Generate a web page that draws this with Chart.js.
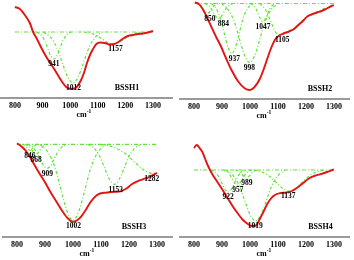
<!DOCTYPE html>
<html>
<head>
<meta charset="utf-8">
<script src="https://cdn.jsdelivr.net/npm/chart.js@4.4.0/dist/chart.umd.min.js"></script>
<style>
  html, body { margin: 0; padding: 0; background: #fff; }
  #wrap { position: relative; width: 354px; height: 260px; overflow: hidden; }
  #wrap canvas { position: absolute; }
</style>
</head>
<body>
<div id="wrap">
  <canvas id="c1" width="177" height="130" style="left:0;top:0"></canvas>
  <canvas id="c2" width="177" height="130" style="left:177px;top:0"></canvas>
  <canvas id="c3" width="177" height="130" style="left:0;top:130px"></canvas>
  <canvas id="c4" width="177" height="130" style="left:177px;top:130px"></canvas>
</div>
<script>
// ticks of the wavenumber axis (cm-1)
const xTicks = [800, 900, 1000, 1100, 1200, 1300];

// ---- BSSH1 ----
const bssh1X = [800, 818, 836, 854, 866, 878, 896, 914, 933, 951, 969, 988, 1008, 1024, 1038, 1050, 1061, 1072, 1083, 1095, 1110, 1125, 1144, 1160, 1175, 1192, 1210, 1228, 1246, 1264, 1282, 1300];
const bssh1Y = [25, 23, 17, 9, 0, -6, -16, -25, -33, -41, -49, -55.5, -57, -55, -49, -41, -31, -23, -17, -12, -10.5, -11, -12.5, -12, -10, -6.5, -4, -3, -2, -1.5, -0.5, 1];
const bssh1Peaks = [941, 1012, 1157];
const bssh1CompX = [
  [879, 895, 908, 919, 930, 941, 952, 963, 974, 987, 1003],
  [904, 930, 953, 972, 991, 1010, 1029, 1048, 1067, 1090, 1116],
  [1049, 1075, 1098, 1117, 1136, 1155, 1174, 1193, 1212, 1235, 1261]
];
const bssh1CompY = [
  [0, -3, -8.6, -16.5, -23.8, -27, -23.8, -16.5, -8.6, -3, 0],
  [0, -5.6, -16.3, -31.1, -44.9, -51, -44.9, -31.1, -16.3, -5.6, 0],
  [0, -1.3, -3.8, -7.3, -10.6, -12, -10.6, -7.3, -3.8, -1.3, 0]
];

// ---- BSSH2 ----
const bssh2X = [803, 815, 830, 845, 863, 880, 895, 915, 935, 958, 982, 999, 1015, 1036, 1050, 1061, 1075, 1090, 1105, 1120, 1140, 1155, 1175, 1191, 1205, 1220, 1240, 1256, 1275, 1300];
const bssh2Y = [1, 0, -5, -13, -24, -34, -42, -55, -67, -78, -85, -86.5, -84, -75, -65, -56, -45, -36, -32, -30, -28, -26, -21, -17, -13, -11, -9, -7.5, -5, -1.5];
const bssh2Peaks = [850, 884, 937, 998, 1047, 1105];
const bssh2CompX = [
  [809, 819, 827, 834, 841, 848, 855, 862, 869, 877, 887],
  [838, 850, 861, 870, 879, 888, 897, 906, 915, 926, 938],
  [862, 880, 896, 909, 922, 935, 948, 961, 974, 990, 1008],
  [898, 923, 945, 963, 981, 999, 1017, 1035, 1053, 1075, 1100],
  [1001, 1012, 1022, 1030, 1038, 1046, 1054, 1062, 1070, 1080, 1091],
  [1035, 1055, 1070, 1085, 1098, 1110, 1130, 1160, 1200, 1250, 1300]
];
const bssh2CompY = [
  [0, -1.1, -3.2, -6.1, -8.8, -10, -8.8, -6.1, -3.2, -1.1, 0],
  [0, -1.7, -4.8, -9.2, -13.2, -15, -13.2, -9.2, -4.8, -1.7, 0],
  [0, -5.5, -16, -30.5, -44, -50, -44, -30.5, -16, -5.5, 0],
  [0, -6.5, -18.9, -36, -51.9, -59, -51.9, -36, -18.9, -6.5, 0],
  [0, -2, -5.8, -11, -15.8, -18, -15.8, -11, -5.8, -2, 0],
  [0, -6, -15, -25, -30.5, -31, -28.5, -24, -14, -7, -1]
];

// ---- BSSH3 ----
const bssh3X = [800, 815, 830, 845, 860, 880, 900, 920, 940, 960, 980, 1000, 1015, 1030, 1045, 1060, 1075, 1090, 1110, 1130, 1150, 1170, 1190, 1210, 1230, 1250, 1270, 1300];
const bssh3Y = [1, -2, -6, -12, -19.5, -29, -38, -48, -57, -66, -73.5, -77.5, -76, -72, -66, -59, -53.5, -50, -48.5, -48, -47.5, -47, -44.5, -40, -37, -35, -33, -28.5];
const bssh3Peaks = [846, 868, 909, 1002, 1153, 1282];
const bssh3CompX = [
  [818, 825, 831, 836, 841, 846, 851, 856, 861, 867, 874],
  [829, 839, 847, 854, 861, 868, 875, 882, 889, 897, 907],
  [838, 855, 870, 883, 895, 908, 921, 933, 946, 961, 978],
  [882, 912, 937, 958, 979, 1000, 1021, 1042, 1063, 1088, 1118],
  [1053, 1077, 1097, 1114, 1131, 1148, 1165, 1182, 1199, 1219, 1243],
  [1103, 1148, 1187, 1220, 1252, 1285, 1300]
];
const bssh3CompY = [
  [0, -0.7, -1.9, -3.7, -5.3, -6, -5.3, -3.7, -1.9, -0.7, 0],
  [0, -1.1, -3.2, -6.1, -8.8, -10, -8.8, -6.1, -3.2, -1.1, 0],
  [0, -2.6, -7.7, -14.6, -21.1, -24, -21.1, -14.6, -7.7, -2.6, 0],
  [0, -8.4, -24.3, -46.4, -66.9, -76, -66.9, -46.4, -24.3, -8.4, 0],
  [0, -4.4, -12.8, -24.4, -35.2, -40, -35.2, -24.4, -12.8, -4.4, 0],
  [0, -3.2, -9.3, -17.7, -25.5, -29, -28.2]
];

// ---- BSSH4 ----
const bssh4X = [800, 810, 820, 830, 840, 852, 865, 880, 900, 920, 940, 958, 975, 990, 1007, 1022, 1035, 1048, 1060, 1075, 1092, 1110, 1130, 1150, 1170, 1190, 1210, 1230, 1250, 1275, 1300];
const bssh4Y = [22, 25, 22, 18, 11, 3, -4, -10.5, -19, -28, -37, -44, -50, -53.5, -56, -55.5, -49, -42, -35, -28.5, -24.5, -23, -22.5, -21, -17.5, -13, -8.5, -6, -4.3, -2, 0.5];
const bssh4Peaks = [922, 957, 989, 1019, 1137];
const bssh4CompX = [
  [860, 876, 889, 900, 911, 922, 933, 944, 955, 968, 984],
  [905, 917, 928, 937, 946, 955, 964, 973, 982, 993, 1005],
  [948, 958, 966, 973, 980, 987, 994, 1001, 1008, 1016, 1026],
  [914, 940, 963, 982, 1001, 1020, 1039, 1058, 1077, 1100, 1126],
  [1014, 1045, 1072, 1095, 1117, 1140, 1163, 1185, 1208, 1235, 1266]
];
const bssh4CompY = [
  [0, -2.4, -7, -13.4, -19.4, -22, -19.4, -13.4, -7, -2.4, 0],
  [0, -1.7, -4.8, -9.2, -13.2, -15, -13.2, -9.2, -4.8, -1.7, 0],
  [0, -0.9, -2.6, -4.9, -7, -8, -7, -4.9, -2.6, -0.9, 0],
  [0, -5.6, -16.3, -31.1, -44.9, -51, -44.9, -31.1, -16.3, -5.6, 0],
  [0, -2.3, -6.7, -12.8, -18.5, -21, -18.5, -12.8, -6.7, -2.3, 0]
];

// couleurs / styles
const RED = '#e21414';
const GREEN = 'rgb(98, 226, 58)';
const SERIF = '"Liberation Serif", "Times New Roman", serif';

// mise en page de chaque panneau (pixels du canvas 177x130)
const panels = [
  { id: 'c1', name: 'BSSH1', fx: bssh1X, fy: bssh1Y, cx: bssh1CompX, cy: bssh1CompY, peaks: bssh1Peaks,
    xMin: 746, xMax: 1369, padL: 0, base: 32, axisY: 98, nameX: 127, nudge: [0, 0, 2] },
  { id: 'c2', name: 'BSSH2', fx: bssh2X, fy: bssh2Y, cx: bssh2CompX, cy: bssh2CompY, peaks: bssh2Peaks,
    xMin: 750, xMax: 1354, padL: 3, base: 3.5, axisY: 99, nameX: 143, nudge: [2, 6, 2, 0, 0, 3] },
  { id: 'c3', name: 'BSSH3', fx: bssh3X, fy: bssh3Y, cx: bssh3CompX, cy: bssh3CompY, peaks: bssh3Peaks,
    xMin: 750, xMax: 1354, padL: 3, base: 14.3, axisY: 107, nameX: 134, nudge: [0, 0, 0, 0, 0, 0] },
  { id: 'c4', name: 'BSSH4', fx: bssh4X, fy: bssh4Y, cx: bssh4CompX, cy: bssh4CompY, peaks: bssh4Peaks,
    xMin: 750, xMax: 1354, padL: 3, base: 40, axisY: 107, nameX: 143.5, nudge: [0, 0, 0, 0, 0] }
];

function toPoints(xs, ys) {
  return xs.map((x, i) => ({ x: x, y: ys[i] }));
}

// textes : numéros des pics, nom de l'échantillon, titre de l'axe
function textPlugin(p) {
  return {
    id: 'panelText' + p.id,
    afterDatasetsDraw(chart) {
      const ctx = chart.ctx;
      const xs = chart.scales.x;
      const ys = chart.scales.y;
      ctx.save();
      ctx.fillStyle = '#000';
      ctx.textAlign = 'center';
      ctx.textBaseline = 'middle';
      ctx.font = 'bold 7.5px ' + SERIF;
      p.peaks.forEach((pk, i) => {
        const lowest = Math.min(...p.cy[i]);
        ctx.fillText(String(pk), xs.getPixelForValue(pk) + p.nudge[i], ys.getPixelForValue(lowest) + 5.5);
      });

      ctx.font = 'bold 8px ' + SERIF;
      ctx.fillText(p.name, p.nameX, p.axisY - 10);

      // cm-1 avec exposant
      const mid = xs.getPixelForValue(1050);
      ctx.textAlign = 'left';
      ctx.font = 'bold 8px ' + SERIF;
      const w1 = ctx.measureText('cm').width;
      ctx.font = 'bold 5.5px ' + SERIF;
      const w2 = ctx.measureText('-1').width;
      const start = mid - (w1 + w2) / 2;
      ctx.font = 'bold 8px ' + SERIF;
      ctx.fillText('cm', start, p.axisY + 17);
      ctx.font = 'bold 5.5px ' + SERIF;
      ctx.fillText('-1', start + w1, p.axisY + 13.5);
      ctx.restore();
    }
  };
}

function createPanel(p) {
  const datasets = [];
  // courbe ajustée (rouge), au-dessus
  datasets.push({
    data: toPoints(p.fx, p.fy),
    borderColor: RED,
    borderWidth: 1.9,
    cubicInterpolationMode: 'monotone'
  });
  // composantes gaussiennes
  p.cx.forEach((xs, i) => {
    datasets.push({
      data: toPoints(xs, p.cy[i]),
      borderColor: GREEN,
      borderWidth: 1.2,
      borderDash: [3, 2, 1, 2],
      cubicInterpolationMode: 'monotone'
    });
  });
  // ligne de base
  datasets.push({
    data: toPoints([p.fx[0], 1300], [0, 0]),
    borderColor: GREEN,
    borderWidth: 1.2,
    borderDash: [4, 2, 1, 2]
  });

  new Chart(document.getElementById(p.id), {
    type: 'line',
    data: { datasets: datasets },
    options: {
      responsive: false,
      animation: false,
      devicePixelRatio: 1,
      layout: { padding: { left: p.padL, right: 5, top: 0, bottom: 0 } },
      elements: { point: { radius: 0 } },
      plugins: { legend: { display: false }, tooltip: { enabled: false } },
      scales: {
        x: {
          type: 'linear',
          min: p.xMin,
          max: p.xMax,
          afterBuildTicks: (s) => { s.ticks = xTicks.map(v => ({ value: v })); },
          afterFit: (s) => { s.height = 130 - p.axisY; },
          grid: { display: false, drawTicks: false },
          border: { display: true, color: '#9a9a9a', width: 2 },
          ticks: {
            color: '#000',
            font: { family: SERIF, size: 8, weight: 'bold' },
            padding: 3,
            maxRotation: 0,
            autoSkip: false,
            callback: (v) => String(v)
          }
        },
        y: { display: false, min: p.base - p.axisY, max: p.base }
      }
    },
    plugins: [textPlugin(p)]
  });
}

panels.forEach(createPanel);
</script>
</body>
</html>
